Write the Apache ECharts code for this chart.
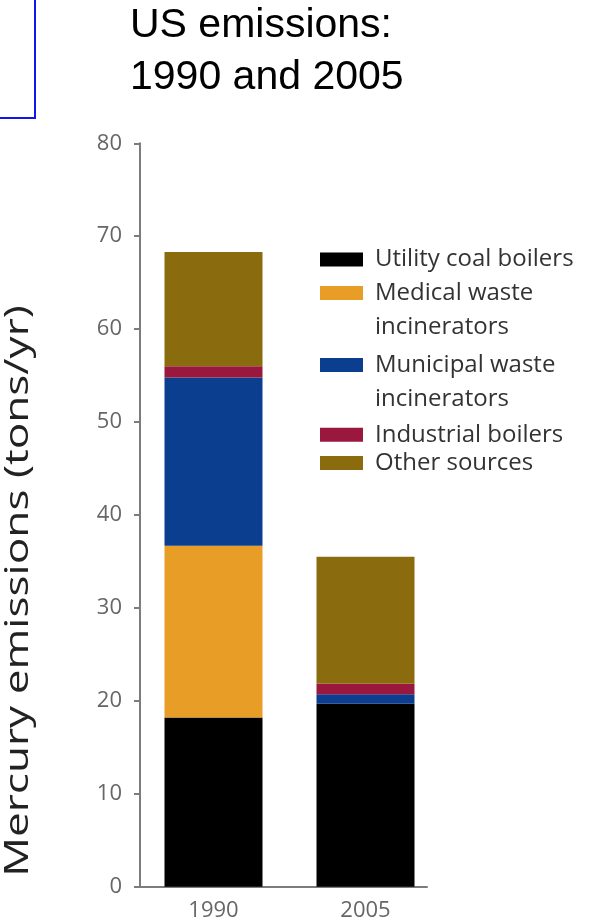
<!DOCTYPE html>
<html>
<head>
<meta charset="utf-8">
<script src="https://cdn.jsdelivr.net/npm/echarts@6/dist/echarts.min.js"></script>
<style>
  html, body { margin: 0; padding: 0; background: #ffffff; }
  #chart { width: 603px; height: 924px; }
</style>
</head>
<body>
<div id="chart"></div>
<script>
// Mercury emissions by source, tons per year
const years = ['1990', '2005'];
const sources = [
  'Utility coal boilers',
  'Medical waste\nincinerators',
  'Municipal waste\nincinerators',
  'Industrial boilers',
  'Other sources'
];
const coalBoilers = [18.2, 19.7];
const medicalWaste = [18.5, 0];
const municipalWaste = [18.1, 1.0];
const industrialBoilers = [1.2, 1.15];
const otherSources = [12.3, 13.65];

const sourceValues = [coalBoilers, medicalWaste, municipalWaste, industrialBoilers, otherSources];
const sourceColors = ['#000000', '#E89D27', '#0B3E8F', '#9A173E', '#8A6B0D'];

const chart = echarts.init(document.getElementById('chart'), null, { renderer: 'canvas' });

const axisGrey = '#7c7c7c';
const labelFont = 'Open Sans';
const LH = 34;                                     // legend line height
const legendIconY = [259.5, 293, 365, 434.7, 463]; // icon centres of the legend rows

// One legend per row so that two-line entries keep their swatch on the first line
const legends = sources.map((name, i) => {
  const twoLine = name.indexOf('\n') >= 0;
  return {
    data: [name],
    left: 320,
    top: legendIconY[i] - (twoLine ? 1.5 * LH : 0.5 * LH),
    padding: 0,
    orient: 'vertical',
    icon: 'rect',
    itemWidth: 43,
    itemHeight: 14,
    selectedMode: false,
    formatter: (n) => (twoLine ? '\n' + n : n),
    textStyle: {
      fontFamily: labelFont,
      fontSize: 24,
      color: '#333333',
      lineHeight: LH,
      padding: [0, 0, 0, 7]
    }
  };
});

chart.setOption({
  animation: false,
  backgroundColor: '#ffffff',
  title: {
    text: 'US emissions:\n1990 and 2005',
    left: 130,
    top: 0,
    padding: 0,
    textStyle: {
      fontFamily: 'Liberation Sans',
      fontSize: 41,
      fontWeight: 'normal',
      color: '#000000',
      lineHeight: 52
    }
  },
  legend: legends,
  graphic: [
    {
      type: 'rect',
      shape: { x: -5, y: -5, width: 40, height: 123 },
      style: { fill: 'none', stroke: '#1414f0', lineWidth: 2 },
      silent: true
    },
    {
      type: 'text',
      x: 19,
      y: 591,
      rotation: Math.PI / 2,
      scaleX: 1.38,
      style: {
        text: 'Mercury emissions (tons/yr)',
        font: '32px "Open Sans"',
        fill: '#222222',
        align: 'center',
        verticalAlign: 'middle'
      },
      silent: true
    }
  ],
  grid: {
    left: 135,
    width: 292,
    top: 143.3,
    bottom: 37.3,
    containLabel: false
  },
  xAxis: {
    type: 'value',
    min: -0.5164,
    max: 1.4046,
    axisLine: { onZero: true, lineStyle: { color: axisGrey, width: 2 } },
    axisTick: { show: false },
    splitLine: { show: false },
    axisLabel: {
      customValues: [0, 1],
      formatter: (v) => years[Math.round(v)],
      fontFamily: labelFont,
      fontSize: 22,
      color: '#666666',
      margin: 13
    }
  },
  yAxis: {
    type: 'value',
    min: 0,
    max: 80,
    interval: 10,
    offset: -5,
    axisLine: { show: true, onZero: false, lineStyle: { color: axisGrey, width: 2 } },
    axisTick: { show: true, inside: false, length: 6, lineStyle: { color: axisGrey, width: 2 } },
    splitLine: { show: false },
    axisLabel: {
      fontFamily: labelFont,
      fontSize: 22,
      color: '#666666',
      margin: 18
    }
  },
  // Each point is [emissions, year index]; the value column comes first so it is the stacked one
  series: sources.map((name, i) => ({
    name: name,
    type: 'bar',
    stack: 'emissions',
    barWidth: 98,
    encode: { x: 1, y: 0 },
    data: sourceValues[i].map((v, j) => [v, j]),
    itemStyle: { color: sourceColors[i] },
    emphasis: { disabled: true }
  }))
});
</script>
</body>
</html>
